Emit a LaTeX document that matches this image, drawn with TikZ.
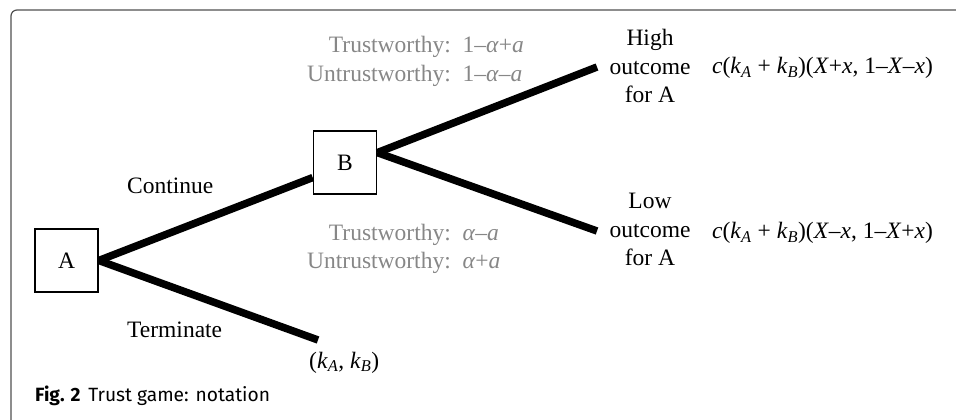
\documentclass[tikz,border=0pt]{standalone}
\usepackage{fontspec}
\setmainfont{Liberation Serif}
\newfontfamily\capfont{Fira Sans}
\definecolor{labgray}{RGB}{135,135,135}
\definecolor{framegray}{RGB}{80,80,80}
\begin{document}
\begin{tikzpicture}[x=1pt,y=-1pt,
  every node/.style={font=\fontsize{23.5}{28.5}\selectfont, inner sep=0pt},
  player/.style={draw, line width=1.6pt, minimum width=63pt, minimum height=63pt},
  branch/.style={line width=7.5pt},
  prob/.style={text=labgray},
  framestyle/.style={draw=framegray, line width=1.2pt, rounded corners=6pt}]
\useasboundingbox (0,0) rectangle (956,420);
\draw[framestyle] (11,421) -- (11,10) -- (957,10);
\node[player] (A) at (66.5,260.5) {A};
\node[player] (B) at (345,162.5) {B};
\coordinate (T) at (318,340);
\coordinate (H) at (597,67);
\coordinate (L) at (597,231);
\draw[branch] (A.east) -- (B.205);
\draw[branch] (A.east) -- (T);
\draw[branch] (B.17) -- (H);
\draw[branch] (B.17) -- (L);
\node[anchor=base west] (cont) at (127,193) {Continue};
\node[anchor=base west] (term) at (127,337) {Terminate};
\node[anchor=base west] (kk) at (309,368) {(\textit{k}\textsubscript{\textit{A}}, \textit{k}\textsubscript{\textit{B}})};
\node[prob, anchor=base west] (pu) at (307,53) {\begin{tabular}[t]{@{}r@{\hspace{0.5em}}l@{}}Trustworthy: & 1–\textit{α}+\textit{a}\\ Untrustworthy: & 1–\textit{α}–\textit{a}\end{tabular}};
\node[prob, anchor=base west] (pl) at (307,240) {\begin{tabular}[t]{@{}r@{\hspace{0.5em}}l@{}}Trustworthy: & \textit{α}–\textit{a}\\ Untrustworthy: & \textit{α}+\textit{a}\end{tabular}};
\node[align=center, anchor=north] (high) at (650,29) {High\\outcome\\for A};
\node[align=center, anchor=north] (low) at (650,193.4) {Low\\outcome\\for A};
\node[anchor=base west] (fh) at (712,73.5) {\textit{c}(\textit{k}\textsubscript{\textit{A}} + \textit{k}\textsubscript{\textit{B}})(\textit{X}+\textit{x}, 1–\textit{X}–\textit{x})};
\node[anchor=base west] (fl) at (712,238.5) {\textit{c}(\textit{k}\textsubscript{\textit{A}} + \textit{k}\textsubscript{\textit{B}})(\textit{X}–\textit{x}, 1–\textit{X}+\textit{x})};
\node[anchor=base west, font=\capfont\fontsize{19.2}{23}\selectfont] (cap) at (35,401) {\textbf{Fig. 2}\hspace{0.4em}Trust game: notation};
\end{tikzpicture}
\end{document}
